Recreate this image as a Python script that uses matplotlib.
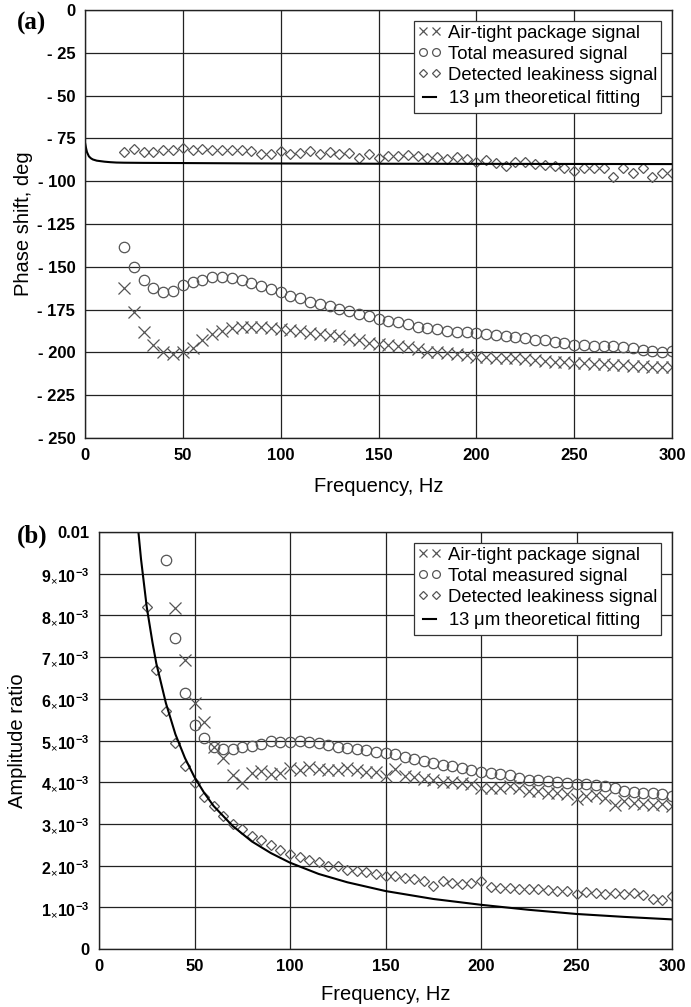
import matplotlib
matplotlib.use('Agg')
import matplotlib.pyplot as plt
import numpy as np

plt.rcParams['font.family'] = ['Liberation Sans', 'DejaVu Sans']
plt.rcParams['mathtext.fontset'] = 'custom'
plt.rcParams['mathtext.rm'] = 'Liberation Sans'
plt.rcParams['mathtext.bf'] = 'Liberation Sans:bold'

# ---- panel (a): phase shift ----
freq_a = np.arange(20, 305, 5)
airtight_a = [-162.5, -176.5, -188, -195.5, -199.5, -201, -199.5, -197.5, -192.5, -189.5,
              -187.5, -186, -185, -185, -185, -185.5, -186.5, -187, -187.5, -188.5,
              -189.5, -190, -190.5, -192, -193, -194.5, -195, -195.5, -196.5, -197,
              -198, -199.5, -200, -200.5, -201, -201.5, -202.5, -202.5, -203, -203.5,
              -203.5, -204, -204.5, -205, -205.5, -205.5, -206, -206, -206.5, -207,
              -207.5, -207.5, -208, -208, -208.5, -208.5, -208.5]
total_a = [-138.5, -150, -158, -162.5, -164.5, -164, -160.5, -159, -157.5, -156,
           -156, -156.5, -158, -159.5, -161.5, -163, -165, -167, -168.5, -170.5,
           -172, -173, -174.5, -176, -177.5, -179, -180.5, -181.5, -182.5, -183.5,
           -185, -186, -186.5, -187.5, -188, -188, -188.5, -189.5, -190, -190.5,
           -191, -191.5, -192.5, -193, -194, -194.5, -195.5, -195.5, -196, -196.5,
           -196.5, -197, -197.5, -198.5, -199, -199.5, -199]
leak_a = [-83, -81, -83, -83, -82, -82, -80.5, -81.5, -81, -81.5,
          -81.5, -82, -82, -82.5, -84, -84, -82.5, -84, -83.5, -82.5,
          -84, -83, -84, -83.5, -86.5, -84, -86.5, -85.5, -85, -84.5,
          -85, -86.5, -86, -87, -86, -87, -89, -87.5, -89.5, -91,
          -88.5, -88.5, -90, -90.5, -91, -92, -94, -92.5, -92.5, -92,
          -97.5, -92.5, -95, -92, -97.5, -95.5, -95]
fit_freq_a = [0, 0.5, 1, 2, 3, 4, 6, 8, 10, 13, 16, 20, 30, 50, 85, 150, 300]
fit_a = [-77.5, -80.5, -83, -85.5, -86.6, -87.3, -88, -88.3, -88.6, -88.9,
         -89.1, -89.2, -89.3, -89.4, -89.6, -89.8, -90]

# ---- panel (b): amplitude ratio (x 1e-3) ----
freq_leak_b = np.arange(25, 305, 5)
leak_b = [8.2, 6.7, 5.7, 4.95, 4.4, 3.97, 3.65, 3.44, 3.2, 3.0,
          2.88, 2.72, 2.62, 2.5, 2.38, 2.28, 2.2, 2.13, 2.08, 2.0,
          2.0, 1.9, 1.86, 1.85, 1.8, 1.76, 1.74, 1.7, 1.68, 1.62,
          1.5, 1.62, 1.58, 1.55, 1.58, 1.62, 1.48, 1.47, 1.46, 1.45,
          1.43, 1.45, 1.42, 1.4, 1.38, 1.33, 1.37, 1.35, 1.33, 1.35,
          1.32, 1.34, 1.3, 1.2, 1.17, 1.28]
freq_total_b = np.arange(35, 305, 5)
total_b = [9.33, 7.45, 6.15, 5.38, 5.07, 4.84, 4.8, 4.8, 4.84, 4.87,
           4.91, 5.0, 4.97, 4.96, 5.0, 4.97, 4.93, 4.89, 4.85, 4.82,
           4.8, 4.78, 4.72, 4.71, 4.67, 4.6, 4.55, 4.5, 4.46, 4.42,
           4.38, 4.34, 4.3, 4.25, 4.22, 4.2, 4.17, 4.09, 4.06, 4.05,
           4.03, 4.0, 3.98, 3.96, 3.95, 3.93, 3.9, 3.87, 3.8, 3.77,
           3.75, 3.73, 3.72, 3.68]
freq_air_b = np.arange(40, 305, 5)
airtight_b = [8.17, 6.92, 5.91, 5.45, 4.85, 4.57, 4.18, 3.97, 4.22, 4.27,
              4.2, 4.22, 4.33, 4.3, 4.37, 4.32, 4.3, 4.3, 4.33, 4.3,
              4.25, 4.24, 4.15, 4.32, 4.15, 4.12, 4.08, 4.05, 4.0, 4.0,
              3.98, 3.96, 3.87, 3.86, 3.87, 3.92, 3.85, 3.8, 3.78, 3.75,
              3.73, 3.72, 3.6, 3.68, 3.7, 3.62, 3.45, 3.55, 3.5, 3.48,
              3.45, 3.48, 3.44]
fit_freq_b = [20, 22, 25, 28, 30, 35, 40, 45, 50, 55, 60, 70, 80, 90, 100,
              115, 130, 150, 175, 200, 225, 250, 275, 300]
fit_b = [10.3, 9.35, 8.2, 7.35, 6.85, 5.9, 5.15, 4.58, 4.12, 3.75, 3.43, 2.95,
         2.58, 2.3, 2.07, 1.8, 1.6, 1.39, 1.2, 1.06, 0.94, 0.84, 0.77, 0.71]

labels = ['Air-tight package signal', 'Total measured signal',
          'Detected leakiness signal', r'13 $\mathregular{\mu}$m theoretical fitting']
mk_col = '#555555'
mk = dict(linestyle='none', markerfacecolor='none', markeredgecolor=mk_col, markeredgewidth=0.9)

fig = plt.figure(figsize=(6.91, 10.07), dpi=100)
ax1 = fig.add_axes([85 / 691, 1 - 438 / 1007, 587 / 691, 428 / 1007])
ax2 = fig.add_axes([99 / 691, 1 - 949 / 1007, 573 / 691, 417 / 1007])


def style(ax, xpad):
    ax.set_xlim(0, 300)
    ax.set_xticks(range(0, 301, 50))
    ax.grid(True, color='#222222', linewidth=0.9)
    ax.set_axisbelow(True)
    ax.tick_params(length=0, labelsize=12, pad=7)
    for lab in ax.get_xticklabels():
        lab.set_fontweight('bold')
    for s in ax.spines.values():
        s.set_color('#222222')
        s.set_linewidth(1.0)
    ax.set_xlabel('Frequency, Hz', fontsize=14.5, labelpad=xpad)


# panel (a)
ax1.plot(freq_a, airtight_a, marker='x', markersize=8, label=labels[0], **mk)
ax1.plot(freq_a, total_a, marker='o', markersize=7.5, label=labels[1], **mk)
ax1.plot(freq_a, leak_a, marker='D', markersize=5.6, label=labels[2], **mk)
ax1.plot(fit_freq_a, fit_a, color='black', linewidth=1.5, label=labels[3])
ax1.set_ylim(-250, 0)
yt = list(range(0, -251, -25))
ax1.set_yticks(yt)
ax1.set_yticklabels(['0'] + ['- %d' % -v for v in yt[1:]], fontweight='bold')
style(ax1, 10)
ax1.set_ylabel('Phase shift, deg', fontsize=14.5, labelpad=3)

# panel (b)
ax2.plot(freq_air_b, np.array(airtight_b) * 1e-3, marker='x', markersize=8, label=labels[0], **mk)
ax2.plot(freq_total_b, np.array(total_b) * 1e-3, marker='o', markersize=7.5, label=labels[1], **mk)
ax2.plot(freq_leak_b, np.array(leak_b) * 1e-3, marker='D', markersize=5.6, label=labels[2], **mk)
ax2.plot(fit_freq_b, np.array(fit_b) * 1e-3, color='black', linewidth=1.5, label=labels[3])
ax2.set_ylim(0, 0.01)
ax2.set_yticks([i * 1e-3 for i in range(11)])
ax2.set_yticklabels(['0'] + [r'$\mathbf{%d}_{\times}\mathbf{10^{-3}}$' % i for i in range(1, 10)]
                    + ['0.01'], fontweight='bold')
style(ax2, 8)
for lab in ax2.get_yticklabels()[1:10]:
    lab.set_fontsize(11.5)
ax2.set_ylabel('Amplitude ratio', fontsize=14.5, labelpad=10)

for ax in (ax1, ax2):
    leg = ax.legend(loc='upper right', numpoints=2, fontsize=13.3, fancybox=False,
                    framealpha=1, edgecolor='#333333', handlelength=1.3, handletextpad=0.35,
                    borderpad=0.2, labelspacing=0.22, borderaxespad=0.6, markerscale=0.75)
    leg.get_frame().set_linewidth(0.9)

fig.text(17 / 691, 1 - 23 / 1007, '(a)', family='Liberation Serif', fontweight='bold',
         fontsize=18, va='center')
fig.text(17 / 691, 1 - 536 / 1007, '(b)', family='Liberation Serif', fontweight='bold',
         fontsize=18, va='center')

fig.savefig('out.png', dpi=100)
